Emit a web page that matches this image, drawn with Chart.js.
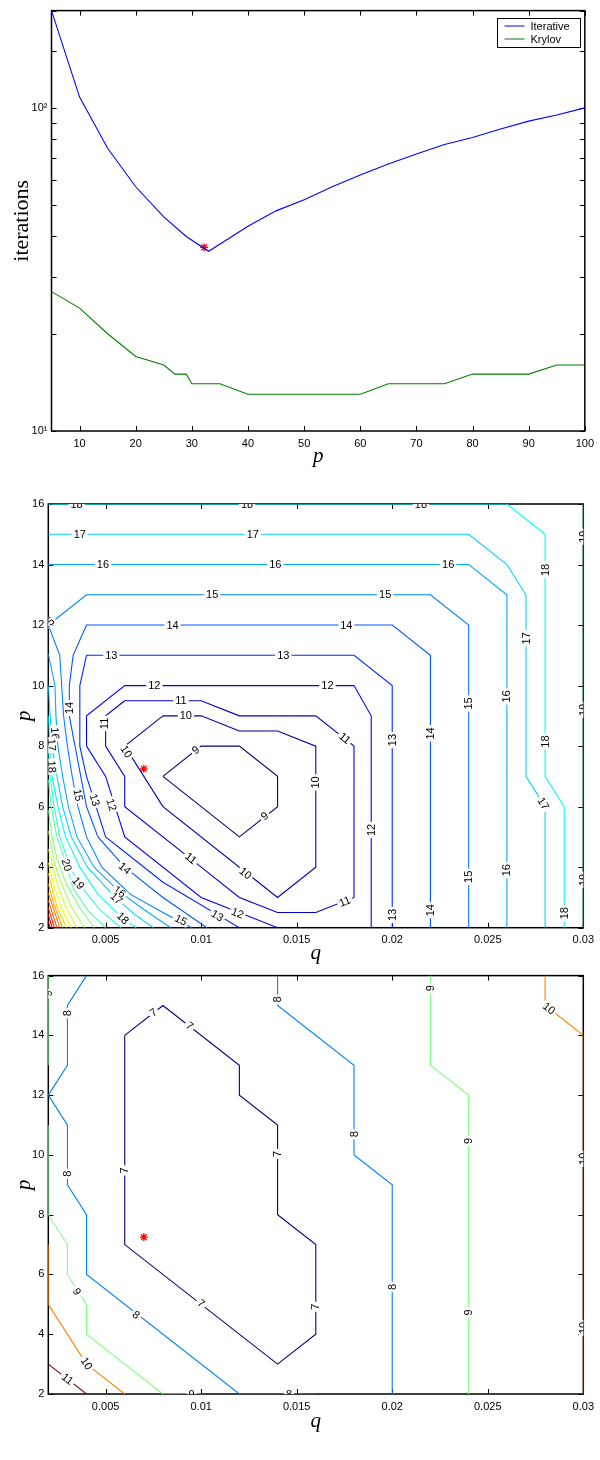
<!DOCTYPE html>
<html>
<head>
<meta charset="utf-8">
<script src="https://cdn.jsdelivr.net/npm/chart.js@4.4.1/dist/chart.umd.min.js"></script>
<style>
  html, body { margin: 0; padding: 0; background: #fff; }
  body { width: 600px; height: 1460px; position: relative; overflow: hidden; }
  canvas { position: absolute; left: 0; }
</style>
</head>
<body>
<canvas id="iterChart" width="600" height="470" style="top:0"></canvas>
<canvas id="midMap" width="600" height="495" style="top:480px"></canvas>
<canvas id="lowMap" width="600" height="470" style="top:965px"></canvas>
<script>
// ---------- top panel: iterations against p ----------
const pIter     = [5, 10, 15, 20, 25, 29, 33, 40, 45, 50, 55, 60, 65, 70, 75, 80, 85, 90, 95, 100];
const iterative = [200, 108, 75, 57, 46, 40, 36, 43, 48, 52, 57, 62, 67, 72, 77, 81, 86, 91, 95, 100];
const pKrylov   = [5, 10, 15, 20, 25, 27, 29, 30, 35, 40, 60, 65, 75, 80, 90, 95, 100];
const krylov    = [27, 24, 20, 17, 16, 15, 15, 14, 14, 13, 13, 14, 14, 15, 15, 16, 16];
const bestP = [32.2];
const bestIter = [37];
const pTicks = [10, 20, 30, 40, 50, 60, 70, 80, 90, 100];
const decades = [10, 100];
const decadeLabels = ['10\u00b9', '10\u00b2'];

// ---------- contour panels: q on x, p on y ----------
const qTicks = [0.005, 0.01, 0.015, 0.02, 0.025, 0.03];
const qTickLabels = ['0.005', '0.01', '0.015', '0.02', '0.025', '0.03'];
const pGridTicks = [2, 4, 6, 8, 10, 12, 14, 16];
const bestQ = [0.007];
const bestPq = [7.25];

// middle panel contour lines, [q, p] pairs
const m9  = [[0.008,7],[0.010,8],[0.012,8],[0.014,7],[0.014,6],[0.012,5],[0.008,7]];
const m10 = [[0.008,9],[0.010,9],[0.012,8.5],[0.014,8.5],[0.016,8],[0.016,4],[0.014,3],[0.008,6],[0.006,8],[0.008,9]];
const m11 = [[0.006,9.5],[0.010,9.5],[0.012,9],[0.016,9],[0.018,8],[0.018,3],[0.016,2.5],[0.014,2.5],[0.012,3],[0.010,4],[0.006,6],[0.006,7],[0.005,8],[0.005,9],[0.006,9.5]];
const m12 = [[0.014,2],[0.010,3],[0.006,5],[0.005,7],[0.004,8],[0.004,9],[0.006,10],[0.018,10],[0.0189,9],[0.0189,2]];
const m13 = [[0.012,2],[0.008,3.5],[0.006,4.5],[0.005,5],[0.0045,6],[0.004,7],[0.00365,8],[0.00365,10],[0.004,11],[0.018,11],[0.020,10],[0.020,2]];
const m14 = [[0.0103,2],[0.008,3],[0.006,4],[0.0046,5],[0.004,6],[0.0037,7],[0.0034,8],[0.0031,9],[0.0031,10],[0.0033,11],[0.004,12],[0.020,12],[0.022,11],[0.022,2]];
const m15 = [[0.0095,2],[0.008,2.5],[0.0063,3.1],[0.0048,4],[0.004,5],[0.00355,6],[0.00325,7],[0.003,8],[0.0028,9],[0.0027,10],[0.0026,11],[0.002,12],[0.004,13],[0.022,13],[0.024,12],[0.024,2]];
const m16a = [[0.002,14],[0.024,14],[0.026,13],[0.026,2]];
const m16b = [[0.0084,2],[0.007,2.6],[0.0057,3.2],[0.0044,4],[0.0035,5],[0.00305,6],[0.00275,7],[0.0025,8],[0.0024,9],[0.00235,10],[0.002,11.04]];
const m17a = [[0.002,15],[0.024,15],[0.026,14],[0.027,13],[0.027,7],[0.028,6],[0.028,2]];
const m17b = [[0.0075,2],[0.0065,2.45],[0.0055,3],[0.00405,4],[0.0032,5],[0.00275,6],[0.00245,7],[0.0022,8],[0.0021,9],[0.002,10]];
const m18a = [[0.002,16],[0.026,16],[0.028,15],[0.028,7],[0.029,6],[0.029,2]];
const m18b = [[0.0066,2],[0.0059,2.3],[0.0046,3.1],[0.00365,4],[0.0029,5],[0.0025,6],[0.0022,7],[0.0021,8],[0.002,9]];
const m19a = [[0.030,16],[0.030,2]];
const m19b = [[0.0058,2],[0.0047,2.6],[0.00356,3.47],[0.0031,4.1],[0.0026,5],[0.0023,6],[0.0021,7],[0.002,8]];
const m20 = [[0.005,2],[0.0041,2.55],[0.0033,3.3],[0.00296,4.07],[0.00245,5],[0.00215,6],[0.002,6.9]];
const m21 = [[0.0044,2],[0.0036,2.7],[0.0029,3.5],[0.00245,4.3],[0.0022,5],[0.002,5.9]];
const m22 = [[0.0039,2],[0.0032,2.7],[0.00265,3.5],[0.0023,4.2],[0.002,5.2]];
const m23 = [[0.0035,2],[0.0029,2.7],[0.00245,3.5],[0.002,4.6]];
const m24 = [[0.0032,2],[0.00265,2.7],[0.0023,3.4],[0.002,4.15]];
const m25 = [[0.00295,2],[0.00245,2.7],[0.002,3.8]];
const m26 = [[0.00275,2],[0.0023,2.75],[0.002,3.45]];
const m27 = [[0.0026,2],[0.002,3.15]];
const m28 = [[0.00245,2],[0.002,2.9]];
const m29 = [[0.00232,2],[0.002,2.65]];
const m30 = [[0.0022,2],[0.002,2.42]];
const m31 = [[0.0021,2],[0.002,2.2]];

// middle panel inline labels: [level, q, p]
const midLabels = [
  [9,0.00972,7.87],[9,0.01332,5.69],
  [10,0.0092,9],[10,0.016,6.8],[10,0.01232,3.8],[10,0.00608,7.82],
  [11,0.00894,9.5],[11,0.01752,8.26],[11,0.01752,2.86],[11,0.00495,8.75],[11,0.00946,4.29],
  [12,0.00755,10],[12,0.01661,10],[12,0.0189,5.23],[12,0.0053,6.06],[12,0.0119,2.48],
  [13,0.0053,11],[13,0.0143,11],[13,0.020,8.2],[13,0.020,2.42],[13,0.00443,6.22],[13,0.01084,2.4],
  [14,0.0085,12],[14,0.0176,12],[14,0.022,8.42],[14,0.022,2.58],[14,0.00313,9.26],[14,0.006,3.96],
  [15,0.002,12.06],[15,0.01058,13],[15,0.01963,13],[15,0.024,9.41],[15,0.024,3.68],[15,0.00356,6.38],[15,0.00894,2.25],
  [16,0.00486,14],[16,0.01388,14],[16,0.02293,14],[16,0.026,9.64],[16,0.026,3.9],[16,0.00235,8.42],[16,0.00573,3.19],
  [17,0.00365,15],[17,0.0127,15],[17,0.027,11.56],[17,0.0279,6.1],[17,0.00218,8.04],[17,0.00556,2.97],
  [18,0.00348,16],[18,0.0124,16],[18,0.0215,16],[18,0.028,13.82],[18,0.028,8.15],[18,0.029,2.48],[18,0.00218,7.32],[18,0.0059,2.31],
  [19,0.03,14.92],[19,0.03,9.2],[19,0.03,3.58],[19,0.00356,3.47],
  [20,0.00296,4.07]
];

// lower panel contour lines
const b7   = [[0.006,14],[0.008,15],[0.012,13],[0.012,12],[0.014,11],[0.014,8],[0.016,7],[0.016,4],[0.014,3],[0.006,7],[0.006,14]];
const b8a  = [[0.004,16],[0.003,15],[0.003,13],[0.002,12],[0.003,11],[0.003,9],[0.004,8],[0.004,6],[0.012,2],[0.016,2]];
const b8b  = [[0.014,16],[0.014,15],[0.018,13],[0.018,10],[0.020,9],[0.020,2]];
const b9a  = [[0.002,16],[0.002,13]];
const b9b  = [[0.002,11],[0.002,8],[0.003,7],[0.003,6],[0.004,5],[0.004,4],[0.008,2],[0.010,2]];
const b9c  = [[0.022,16],[0.022,13],[0.024,12],[0.024,2]];
const b10a = [[0.002,7],[0.002,5],[0.004,3],[0.006,2]];
const b10b = [[0.028,16],[0.028,15],[0.030,14],[0.030,2]];
const b11  = [[0.002,3],[0.004,2]];

const lowLabels = [
  [7,0.0075,14.76],[7,0.0094,14.32],[7,0.014,10.03],[7,0.006,9.48],[7,0.01,5.03],[7,0.016,4.92],
  [8,0.003,14.74],[8,0.003,9.37],[8,0.0066,4.65],[8,0.0146,2],[8,0.014,15.2],[8,0.018,10.69],[8,0.020,5.58],
  [9,0.002,15.4],[9,0.0035,5.42],[9,0.0095,2],[9,0.022,15.58],[9,0.024,10.47],[9,0.024,4.73],
  [10,0.004,3.02],[10,0.0282,14.9],[10,0.03,9.87],[10,0.03,4.21],
  [11,0.003,2.5]
];

Chart.defaults.font.family = "'Liberation Sans', Arial, sans-serif";
Chart.defaults.font.size = 11;
Chart.defaults.color = '#000';

// matlab jet colormap
function jet(t) {
  const c = v => Math.round(255 * Math.min(Math.max(v, 0), 1));
  const r = Math.min(4 * t - 1.5, -4 * t + 4.5);
  const g = Math.min(4 * t - 0.5, -4 * t + 3.5);
  const b = Math.min(4 * t + 0.5, -4 * t + 2.5);
  return `rgb(${c(r)},${c(g)},${c(b)})`;
}

const toXY = pts => pts.map(([q, p]) => ({ x: q, y: p }));

function contourSets(lines, cmin, cmax) {
  return lines.map(([level, pts]) => ({
    level,
    data: toXY(pts),
    borderColor: jet((level - cmin) / (cmax - cmin)),
    borderWidth: 1.1,
    showLine: true,
    pointRadius: 0,
    tension: 0
  }));
}

function starSet(xs, ys) {
  return {
    data: xs.map((v, i) => ({ x: v, y: ys[i] })),
    pointStyle: 'star',
    pointRadius: 4,
    borderColor: '#ff0000',
    borderWidth: 1.3,
    showLine: false
  };
}

// box with inward ticks, drawn under the lines like matlab
const frame = {
  id: 'frame',
  beforeDatasetsDraw(chart) {
    const { ctx, chartArea: a, scales: { x, y } } = chart;
    ctx.save();
    ctx.strokeStyle = '#000';
    ctx.lineWidth = 1;
    ctx.beginPath();
    x.ticks.forEach(t => {
      const px = Math.round(x.getPixelForValue(t.value)) + 0.5;
      ctx.moveTo(px, a.bottom); ctx.lineTo(px, a.bottom - 5);
      ctx.moveTo(px, a.top); ctx.lineTo(px, a.top + 5);
    });
    y.ticks.forEach(t => {
      const py = Math.round(y.getPixelForValue(t.value)) + 0.5;
      ctx.moveTo(a.left, py); ctx.lineTo(a.left + 5, py);
      ctx.moveTo(a.right, py); ctx.lineTo(a.right - 5, py);
    });
    ctx.stroke();
    ctx.lineWidth = 1.5;
    ctx.strokeRect(a.left, a.top, a.right - a.left, a.bottom - a.top);
    ctx.restore();
  }
};

function segDist(px, py, x1, y1, x2, y2) {
  const dx = x2 - x1, dy = y2 - y1;
  const len = dx * dx + dy * dy;
  let t = len ? ((px - x1) * dx + (py - y1) * dy) / len : 0;
  t = Math.max(0, Math.min(1, t));
  return Math.hypot(px - (x1 + t * dx), py - (y1 + t * dy));
}

// inline contour labels, turned along their line
const contourLabels = {
  id: 'contourLabels',
  afterDatasetsDraw(chart, args, opts) {
    if (!opts.items) return;
    const { ctx, chartArea: a, scales: { x, y } } = chart;
    ctx.save();
    ctx.beginPath();
    ctx.rect(a.left, a.top, a.right - a.left, a.bottom - a.top);
    ctx.clip();
    ctx.font = "11px 'Liberation Sans', Arial, sans-serif";
    ctx.textAlign = 'center';
    ctx.textBaseline = 'middle';
    opts.items.forEach(([level, q, p]) => {
      const px = x.getPixelForValue(q), py = y.getPixelForValue(p);
      let best = Infinity, ang = 0;
      chart.data.datasets.forEach(ds => {
        if (ds.level !== level) return;
        for (let i = 1; i < ds.data.length; i++) {
          const x1 = x.getPixelForValue(ds.data[i - 1].x), y1 = y.getPixelForValue(ds.data[i - 1].y);
          const x2 = x.getPixelForValue(ds.data[i].x), y2 = y.getPixelForValue(ds.data[i].y);
          const d = segDist(px, py, x1, y1, x2, y2);
          if (d < best) { best = d; ang = Math.atan2(y2 - y1, x2 - x1); }
        }
      });
      if (ang >= Math.PI / 2) ang -= Math.PI;
      if (ang < -Math.PI / 2) ang += Math.PI;
      const txt = String(level);
      const w = ctx.measureText(txt).width;
      ctx.save();
      ctx.translate(px, py);
      ctx.rotate(ang);
      ctx.fillStyle = '#fff';
      ctx.fillRect(-w / 2 - 2, -4.5, w + 4, 9);
      ctx.fillStyle = '#000';
      ctx.fillText(txt, 0, 0.5);
      ctx.restore();
    });
    ctx.restore();
  }
};

// matlab style legend box in the top right corner
const boxLegend = {
  id: 'boxLegend',
  afterDatasetsDraw(chart) {
    const { ctx, chartArea: a } = chart;
    const sets = chart.data.datasets.filter(d => d.label);
    const w = 83, h = 29;
    const x0 = Math.round(a.right - 5 - w) + 0.5, y0 = Math.round(a.top + 7) + 0.5;
    ctx.save();
    ctx.fillStyle = '#fff';
    ctx.fillRect(x0, y0, w, h);
    ctx.strokeStyle = '#000';
    ctx.lineWidth = 1;
    ctx.strokeRect(x0, y0, w, h);
    ctx.font = "11px 'Liberation Sans', Arial, sans-serif";
    ctx.textBaseline = 'middle';
    ctx.textAlign = 'left';
    sets.forEach((d, i) => {
      const yy = y0 + 7.5 + i * 13;
      ctx.strokeStyle = d.borderColor;
      ctx.beginPath();
      ctx.moveTo(x0 + 7, yy);
      ctx.lineTo(x0 + 27, yy);
      ctx.stroke();
      ctx.fillStyle = '#000';
      ctx.fillText(d.label, x0 + 33, yy + 0.5);
    });
    ctx.restore();
  }
};

const serif = "'Liberation Serif', 'DejaVu Serif', serif";

function fixedTicks(values) {
  return scale => { scale.ticks = values.map(v => ({ value: v })); };
}

// ---------- top chart ----------
new Chart(document.getElementById('iterChart'), {
  type: 'scatter',
  data: {
    datasets: [
      {
        label: 'Iterative',
        data: pIter.map((p, i) => ({ x: p, y: iterative[i] })),
        borderColor: '#0000ff',
        borderWidth: 1.1,
        showLine: true,
        pointRadius: 0
      },
      {
        label: 'Krylov',
        data: pKrylov.map((p, i) => ({ x: p, y: krylov[i] })),
        borderColor: '#008000',
        borderWidth: 1.1,
        showLine: true,
        pointRadius: 0
      },
      starSet(bestP, bestIter)
    ]
  },
  options: {
    responsive: false,
    animation: false,
    layout: { padding: { top: 8, right: 13, left: 0, bottom: 0 } },
    plugins: { legend: { display: false }, tooltip: { enabled: false } },
    scales: {
      x: {
        type: 'linear', min: 5, max: 100,
        afterBuildTicks: fixedTicks(pTicks),
        afterFit: s => { s.height = 39; },
        grid: { display: false, drawTicks: false },
        border: { display: false },
        ticks: { padding: 6, autoSkip: false, maxRotation: 0 },
        title: { display: true, text: 'p', padding: { top: 0, bottom: 1 },
                 font: { family: serif, size: 21, style: 'italic' } }
      },
      y: {
        type: 'logarithmic', min: 10, max: 200,
        afterFit: s => { s.width = 51.5; },
        grid: { display: false, drawTicks: false },
        border: { display: false },
        ticks: {
          padding: 4, autoSkip: false,
          callback: v => { const k = decades.indexOf(v); return k >= 0 ? decadeLabels[k] : ''; }
        },
        title: { display: true, text: 'iterations', padding: { top: 9, bottom: 0 },
                 font: { family: serif, size: 22 } }
      }
    }
  },
  plugins: [frame, boxLegend]
});

// ---------- contour charts ----------
function mapOptions(labels, padTop, xHeight, qPad) {
  return {
    responsive: false,
    animation: false,
    layout: { padding: { top: padTop, right: 13.3, left: 0, bottom: 0 } },
    plugins: { legend: { display: false }, tooltip: { enabled: false }, contourLabels: { items: labels } },
    scales: {
      x: {
        type: 'linear', min: 0.002, max: 0.03,
        afterBuildTicks: fixedTicks(qTicks),
        afterFit: s => { s.height = xHeight; },
        grid: { display: false, drawTicks: false },
        border: { display: false },
        ticks: { padding: 6, autoSkip: false, maxRotation: 0,
                 callback: (v, i) => qTickLabels[i] },
        title: { display: true, text: 'q', padding: { top: 0, bottom: qPad },
                 font: { family: serif, size: 21, style: 'italic' } }
      },
      y: {
        type: 'linear', min: 2, max: 16,
        afterBuildTicks: fixedTicks(pGridTicks),
        afterFit: s => { s.width = 48.3; },
        grid: { display: false, drawTicks: false },
        border: { display: false },
        ticks: { padding: 4, autoSkip: false },
        title: { display: true, text: 'p', padding: { top: 12, bottom: 0 },
                 font: { family: serif, size: 21, style: 'italic' } }
      }
    }
  };
}

const midLines = [
  [9, m9], [10, m10], [11, m11], [12, m12], [13, m13], [14, m14], [15, m15],
  [16, m16a], [16, m16b], [17, m17a], [17, m17b], [18, m18a], [18, m18b],
  [19, m19a], [19, m19b], [20, m20], [21, m21], [22, m22], [23, m23], [24, m24],
  [25, m25], [26, m26], [27, m27], [28, m28], [29, m29], [30, m30], [31, m31]
];

new Chart(document.getElementById('midMap'), {
  type: 'scatter',
  data: { datasets: [...contourSets(midLines, 9, 33), starSet(bestQ, bestPq)] },
  options: mapOptions(midLabels, 24, 47.3, 9),
  plugins: [frame, contourLabels]
});

const lowLines = [
  [7, b7], [8, b8a], [8, b8b], [9, b9a], [9, b9b], [9, b9c],
  [10, b10a], [10, b10b], [11, b11]
];

new Chart(document.getElementById('lowMap'), {
  type: 'scatter',
  data: { datasets: [...contourSets(lowLines, 7, 11), starSet(bestQ, bestPq)] },
  options: mapOptions(lowLabels, 5, 41, 1),
  plugins: [frame, contourLabels]
});
</script>
</body>
</html>
